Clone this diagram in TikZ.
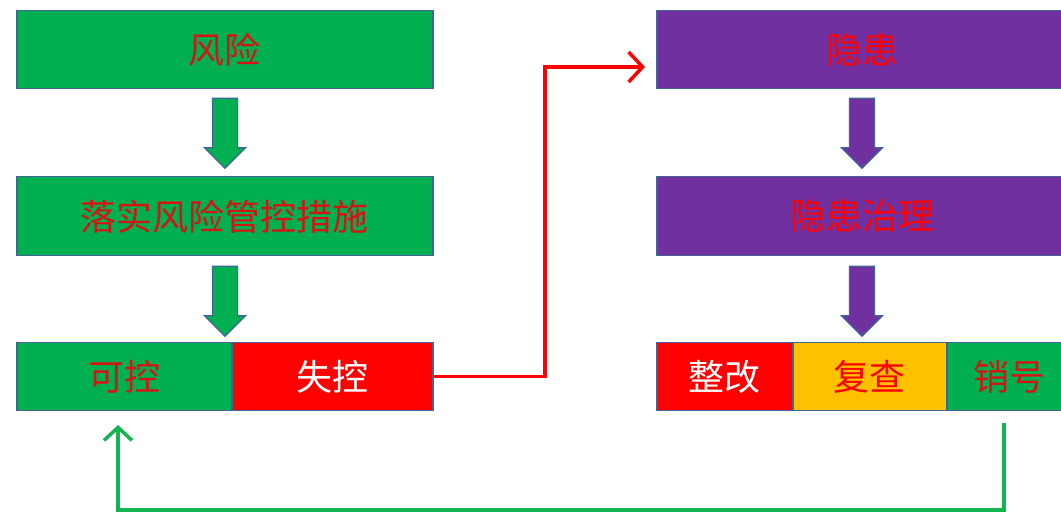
\documentclass[tikz,border=0pt]{standalone}
\usepackage{fontspec}
\newfontfamily\cjk{Noto Sans CJK SC}
\usetikzlibrary{shapes.arrows,arrows.meta}
\definecolor{pgreen}{RGB}{0,176,80}
\definecolor{ppurple}{RGB}{112,48,160}
\definecolor{pred}{RGB}{255,0,0}
\definecolor{pyellow}{RGB}{255,192,0}
\definecolor{pborder}{RGB}{65,100,150}
\definecolor{tred}{RGB}{215,20,20}
\definecolor{lgreen}{RGB}{20,180,80}
\tikzset{
  box/.style={draw=pborder, line width=1.5pt, inner sep=0pt, anchor=north west,
    font=\cjk\fontsize{36}{40}\selectfont},
  barrow/.style={single arrow, draw=pborder, line width=1.2pt, rotate=-90,
    minimum height=70pt, minimum width=40pt, single arrow head extend=8pt,
    single arrow tip angle=90, inner xsep=0pt, inner ysep=12pt},
  redconn/.style={draw=pred, line width=3.5pt, -{Straight Barb[length=14pt,width=30pt,line width=3.5pt]}},
  greenconn/.style={draw=lgreen, line width=3.5pt, -{Straight Barb[length=13pt,width=28pt,line width=3.5pt]}},
}
\begin{document}
\begin{tikzpicture}[x=1pt,y=-1pt]
\useasboundingbox (0,0) rectangle (1061,521);
\clip (0,0) rectangle (1061,521);
\fill[white] (0,0) rectangle (1061,521);
% left column
\node[box, fill=pgreen, text=tred, minimum width=416pt, minimum height=78pt] (fx) at (16,10) {风险};
\node[box, fill=pgreen, text=tred, minimum width=416pt, minimum height=79pt] (ls) at (16,176) {落实风险管控措施};
\node[box, fill=pgreen, text=tred, minimum width=215pt, minimum height=68pt] (kk) at (16,342) {可控};
\node[box, fill=pred, text=white, minimum width=201pt, minimum height=68pt] (sk) at (231,342) {失控};
\node[barrow, fill=pgreen] (a1) at (225,127) {};
\node[barrow, fill=pgreen] (a2) at (225,295) {};
% right column
\node[box, fill=ppurple, text=pred, minimum width=412pt, minimum height=78pt] (yh) at (656,10) {隐患};
\node[box, fill=ppurple, text=pred, minimum width=412pt, minimum height=79pt] (yz) at (656,176) {隐患治理};
\node[box, fill=pred, text=white, minimum width=136pt, minimum height=68pt] (zg) at (656,342) {整改};
\node[box, fill=pyellow, text=pred, minimum width=154pt, minimum height=68pt] (fc) at (792,342) {复查};
\node[box, fill=pgreen, text=tred, minimum width=126pt, minimum height=68pt] (xh) at (946,342) {销号};
\node[barrow, fill=ppurple] (a3) at (862,127) {};
\node[barrow, fill=ppurple] (a4) at (862,295) {};
% connectors
\coordinate (rcorner) at (545,67);
\coordinate (rend) at (645,67);
\draw[redconn] (sk.east) -| (rcorner) -- (rend);
\coordinate (gstart) at (1004,423);
\coordinate (gcorner) at (118,510);
\coordinate (gend) at (118,425);
\draw[greenconn] (gstart) |- (gcorner) -- (gend);
\end{tikzpicture}
\end{document}
